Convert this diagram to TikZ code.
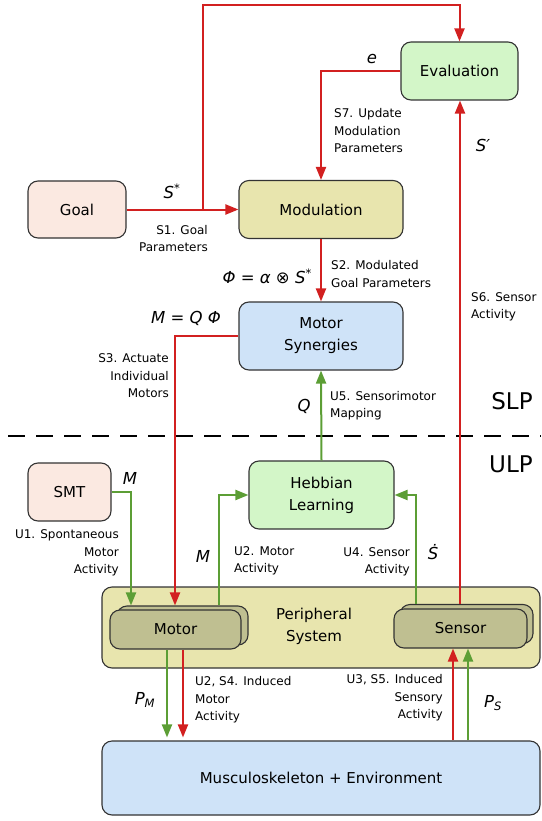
\documentclass[tikz,border=0pt]{standalone}
\usepackage{fontspec}
\setmainfont{DejaVu Sans}
\usetikzlibrary{arrows.meta}

\definecolor{pinkfill}{HTML}{FBE9E1}
\definecolor{khakifill}{HTML}{E8E5AE}
\definecolor{greenfill}{HTML}{D3F6C8}
\definecolor{bluefill}{HTML}{CFE3F8}
\definecolor{olivefill}{HTML}{BFBF91}
\definecolor{boxline}{HTML}{333333}
\definecolor{sigred}{HTML}{D22020}
\definecolor{siggreen}{HTML}{5C9E35}

\tikzset{
  box/.style={draw=boxline, line width=1.1pt, rounded corners=10pt, align=center,
    font=\fontsize{15}{22}\selectfont},
  lbl/.style={font=\fontsize{12}{17.5}\selectfont, inner sep=0pt},
  sym/.style={font=\fontsize{16.5}{18}\selectfont\itshape, inner sep=0pt},
  redarrow/.style={draw=sigred, line width=2pt, -{Triangle[length=13pt,width=10pt]}},
  greenarrow/.style={draw=siggreen, line width=2pt, -{Triangle[length=13pt,width=10pt]}}
}

\begin{document}
\begin{tikzpicture}[x=1pt, y=-1pt]
  \useasboundingbox (0,0) rectangle (541,821);

  % Nodes
  \node[box, fill=pinkfill, minimum width=98pt, minimum height=57pt] (goal) at (77,209.5) {Goal};
  \node[box, fill=khakifill, minimum width=164pt, minimum height=58pt] (modulation) at (321,209.5) {Modulation};
  \node[box, fill=greenfill, minimum width=117pt, minimum height=58pt] (evaluation) at (459.5,71) {Evaluation};
  \node[box, fill=bluefill, minimum width=164pt, minimum height=68pt] (synergies) at (321,336) {Motor\\Synergies};
  \node[box, fill=greenfill, minimum width=145pt, minimum height=68pt] (hebbian) at (321.5,495) {Hebbian\\Learning};
  \node[box, fill=pinkfill, minimum width=83pt, minimum height=58pt] (smt) at (69.5,492) {SMT};
  \node[box, fill=khakifill, minimum width=438pt, minimum height=81pt] (peripheral) at (321,627.5) {};
  \node[align=center, font=\fontsize{15}{22}\selectfont] (periphlabel) at (314,626) {Peripheral\\System};
  \node[box, fill=olivefill, minimum width=131pt, minimum height=39pt] (motorback) at (182.5,625.5) {};
  \node[box, fill=olivefill, minimum width=131pt, minimum height=39pt] (motor) at (175.5,629.5) {Motor};
  \node[box, fill=olivefill, minimum width=133pt, minimum height=39pt] (sensorback) at (466.5,624) {};
  \node[box, fill=olivefill, minimum width=133pt, minimum height=39pt] (sensor) at (460.5,628.5) {Sensor};
  \node[box, fill=bluefill, minimum width=438pt, minimum height=74pt] (env) at (321,778) {Musculoskeleton + Environment};

  % Layer boundary
  \coordinate (dashleft) at (8,436);
  \coordinate (dashright) at (541,436);
  \draw[line width=2.5pt, dash pattern=on 17pt off 11pt] (dashleft) -- (dashright);
  \node[font=\fontsize{23}{26}\selectfont] (slp) at (512,401) {SLP};
  \node[font=\fontsize{23}{26}\selectfont] (ulp) at (511,464) {ULP};

  % Coordinates
  \coordinate (split) at (203,209.5);
  \coordinate (top) at (203,5);
  \coordinate (pmtop) at ([xshift=-8.5]motor.south);
  \coordinate (mottop) at ([xshift=7.5]motor.south);
  \coordinate (sensbot) at ([xshift=-7.5]sensor.south);
  \coordinate (psbot) at ([xshift=7.5]sensor.south);
  \coordinate (sensline) at ([xshift=-6.5]sensorback.north);

  % Edges (supervised)
  \draw[redarrow] (goal.east) -- (modulation.west);
  \draw[redarrow] (split) -- (top) -| (evaluation.north);
  \draw[redarrow] (evaluation.west) -| (modulation.north);
  \draw[redarrow] (modulation.south) -- (synergies.north);
  \draw[redarrow] (synergies.west) -| ([xshift=-7.5]motorback.north);
  \draw[redarrow, shorten >=3pt] (mottop) -- (mottop |- env.north);
  \draw[redarrow] (sensbot |- env.north) -- (sensbot);
  \draw[redarrow] (sensline) -- (sensline |- evaluation.south);

  % Edges (unsupervised)
  \draw[greenarrow] (smt.east) -| ([xshift=-51.5]motorback.north);
  \draw[greenarrow] ([xshift=36.5]motorback.north) |- (hebbian.west);
  \draw[greenarrow] ([xshift=-50.5]sensorback.north) |- (hebbian.east);
  \draw[greenarrow] (hebbian.north) -- (synergies.south);
  \draw[greenarrow, shorten >=3pt] (pmtop) -- (pmtop |- env.north);
  \draw[greenarrow] (psbot |- env.north) -- (psbot);

  % Labels
  \node[sym] (sstar) at (172,191) {S\textsuperscript{*}};
  \node[lbl, anchor=east, align=right] (s1) at (208,238.5) {S1. Goal\\Parameters};
  \node[sym] (err) at (372,59) {e};
  \node[lbl, anchor=west, align=left] (s7) at (334,131) {S7. Update\\Modulation\\Parameters};
  \node[sym] (sprime) at (483,145) {S′};
  \node[sym, anchor=east] (phi) at (312,276) {Φ = α ⊗ S\textsuperscript{*}};
  \node[lbl, anchor=west, align=left] (s2) at (331,274) {S2. Modulated\\Goal Parameters};
  \node[sym, anchor=east] (mq) at (221,318) {M = Q Φ};
  \node[lbl, anchor=east, align=right] (s3) at (169,376) {S3. Actuate\\Individual\\Motors};
  \node[lbl, anchor=west, align=left] (s6) at (471,307) {S6. Sensor\\Activity};
  \node[sym] (qlbl) at (304,406) {Q};
  \node[lbl, anchor=west, align=left] (u5) at (330,405.5) {U5. Sensorimotor\\Mapping};
  \node[sym] (msmt) at (130,478) {M};
  \node[lbl, anchor=east, align=right] (u1) at (119,553) {U1. Spontaneous\\Motor\\Activity};
  \node[sym] (mmot) at (203,556) {M};
  \node[lbl, anchor=west, align=left] (u2) at (234,561) {U2. Motor\\Activity};
  \node[lbl, anchor=east, align=right] (u4) at (410,562) {U4. Sensor\\Activity};
  \node[sym] (sdot) at (433,552) {Ṡ};
  \node[sym] (pm) at (145,700) {P\textsubscript{M}};
  \node[sym] (ps) at (493,703) {P\textsubscript{S}};
  \node[lbl, anchor=west, align=left] (u2s4) at (195,700) {U2, S4. Induced\\Motor\\Activity};
  \node[lbl, anchor=east, align=right] (u3s5) at (443,698) {U3, S5. Induced\\Sensory\\Activity};
\end{tikzpicture}
\end{document}
